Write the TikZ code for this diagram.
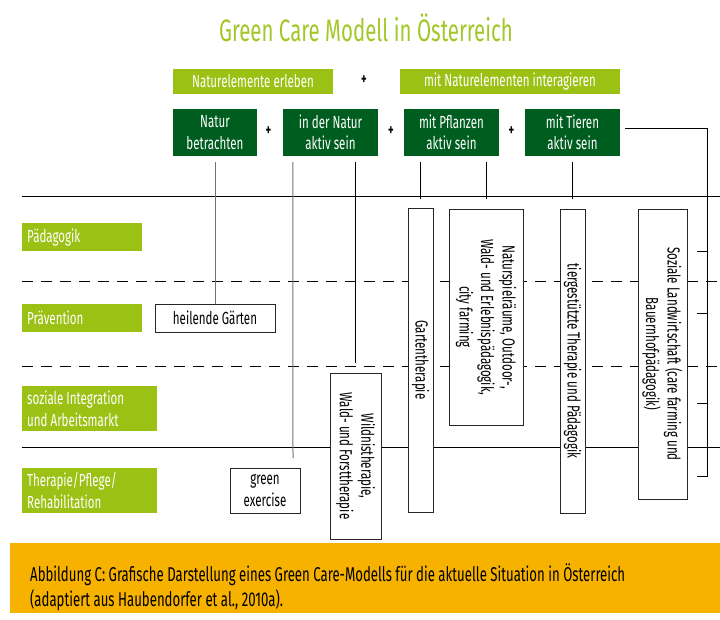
\documentclass[tikz,border=0pt]{standalone}
\usepackage{fontspec}
\setmainfont{Fira Sans}[FakeStretch=0.66]
\definecolor{lgreen}{RGB}{155,193,20}
\definecolor{tgreen}{RGB}{163,199,40}
\definecolor{dgreen}{RGB}{0,93,32}
\definecolor{band}{RGB}{247,178,0}
\begin{document}
\begin{tikzpicture}[x=1pt,y=-1pt,
  txt/.style={font=\fontsize{17.5}{21.5}\selectfont},
  topbox/.style={txt,fill=lgreen,text=white,inner sep=0pt,minimum height=25pt},
  actbox/.style={txt,fill=dgreen,text=white,align=center,inner sep=0pt,minimum height=47pt,minimum width=95pt},
  rowlab/.style={txt,fill=lgreen,text=white,anchor=north west,inner xsep=5pt,inner ysep=0pt,align=left,
    execute at begin node={\spaceskip=0pt\xspaceskip=0pt}},
  offer/.style={txt,draw=black!85,fill=white,line width=0.8pt,align=center,inner sep=0pt},
  plus/.style={font=\fontsize{16}{16}\selectfont\bfseries,inner sep=1pt},
  rule/.style={line width=0.9pt},
  link/.style={line width=0.7pt},
  glink/.style={line width=1pt,black!55}]
\useasboundingbox (0,0) rectangle (720,619);
%rows
\draw[rule] (22,196) -- (720,196);
\draw[rule,dashed,dash pattern=on 11pt off 8pt] (22,281) -- (720,281);
\draw[rule,dashed,dash pattern=on 11pt off 8pt] (22,366) -- (720,366);
\draw[rule] (22,447) -- (720,447);
%title
\node[text=tgreen,font=\fontsize{31}{31}\selectfont] (title) at (366,28) {Green Care Modell in Österreich};
\node[topbox,minimum width=160pt] (erl) at (253,81.5) {Naturelemente erleben};
\node[plus] (p0) at (364,80) {+};
\node[topbox,minimum width=220pt] (inter) at (510,81.5) {mit Naturelementen interagieren};
\node[actbox,minimum width=84pt] (betr) at (215,132.5) {Natur\\betrachten};
\node[plus] (p1) at (268.5,131) {+};
\node[actbox] (natakt) at (330.5,132.5) {in der Natur\\aktiv sein};
\node[plus] (p2) at (391,131) {+};
\node[actbox] (pfl) at (451.5,132.5) {mit Pflanzen\\aktiv sein};
\node[plus] (p3) at (511.5,131) {+};
\node[actbox] (tier) at (572.5,132.5) {mit Tieren\\aktiv sein};
%row labels
\node[rowlab,text width=110pt,minimum height=28pt] (paed) at (22,223) {Pädagogik};
\node[rowlab,text width=110pt,minimum height=28pt] (praev) at (22,304) {Prävention};
\node[rowlab,text width=125pt,minimum height=45pt] (integ) at (22,386) {soziale Integration\\und Arbeitsmarkt};
\node[rowlab,text width=125pt,minimum height=45pt] (ther) at (22,468) {Therapie/Pflege/\\Rehabilitation};
%offers
\node[offer,minimum width=120pt,minimum height=28pt] (heil) at (215,318) {heilende Gärten};
\node[offer,minimum width=70pt,minimum height=45pt] (gex) at (265,490.5) {green\\exercise};
\node[offer,rotate=-90,minimum width=166pt,minimum height=51pt] (wild) at (355.5,456) {Wildnistherapie,\\Wald- und Forsttherapie};
\node[offer,rotate=-90,minimum width=304pt,minimum height=25pt] (garten) at (420.5,360) {Gartentherapie};
\node[offer,rotate=-90,minimum width=216pt,minimum height=74pt] (natsp) at (486,317) {Naturspielräume, Outdoor-,\\Wald- und Erlebnispädagogik,\\city farming};
\node[offer,rotate=-90,minimum width=304pt,minimum height=25pt] (tierb) at (572.5,361) {tiergestützte Therapie und Pädagogik};
\node[offer,rotate=-90,minimum width=290pt,minimum height=49pt] (sozlw) at (662.5,354) {Soziale Landwirtschaft (care farming und\\Bauernhofpädagogik)};
%connectors
\coordinate (gexend) at (293,458);
\coordinate (brk) at (707,476);
\draw[glink] ([yshift=-6pt]betr.south) -- (heil.north);
\draw[glink] ([xshift=10pt,yshift=-6pt]natakt.south west) -- (gexend);
\draw[link] (natakt.south -| wild.west) ++(0,6) -- ([yshift=10pt]wild.west);
\draw[link] (pfl.south -| garten.west) ++(0,6) -- ([yshift=9pt]garten.west);
\draw[link] (pfl.south -| natsp.west) ++(0,6) -- ([yshift=10pt]natsp.west);
\draw[link] (tier.south) ++(0,6) -- ([yshift=10pt]tierb.west);
\draw[link] ([xshift=5pt,yshift=4pt]tier.east) -| (brk) -- ++(-10,0);
\foreach \y in {251,313,403} \draw[link] (697,\y) -- (707,\y);
%caption
\fill[band] (10,543) rectangle (720,613);
\node[anchor=north west,align=left,inner sep=0pt,font=\fontsize{20}{25}\selectfont] (cap) at (30,563) {Abbildung C: Grafische Darstellung eines Green Care-Modells für die aktuelle Situation in Österreich\\(adaptiert aus Haubendorfer et al., 2010a).};
\end{tikzpicture}
\end{document}
